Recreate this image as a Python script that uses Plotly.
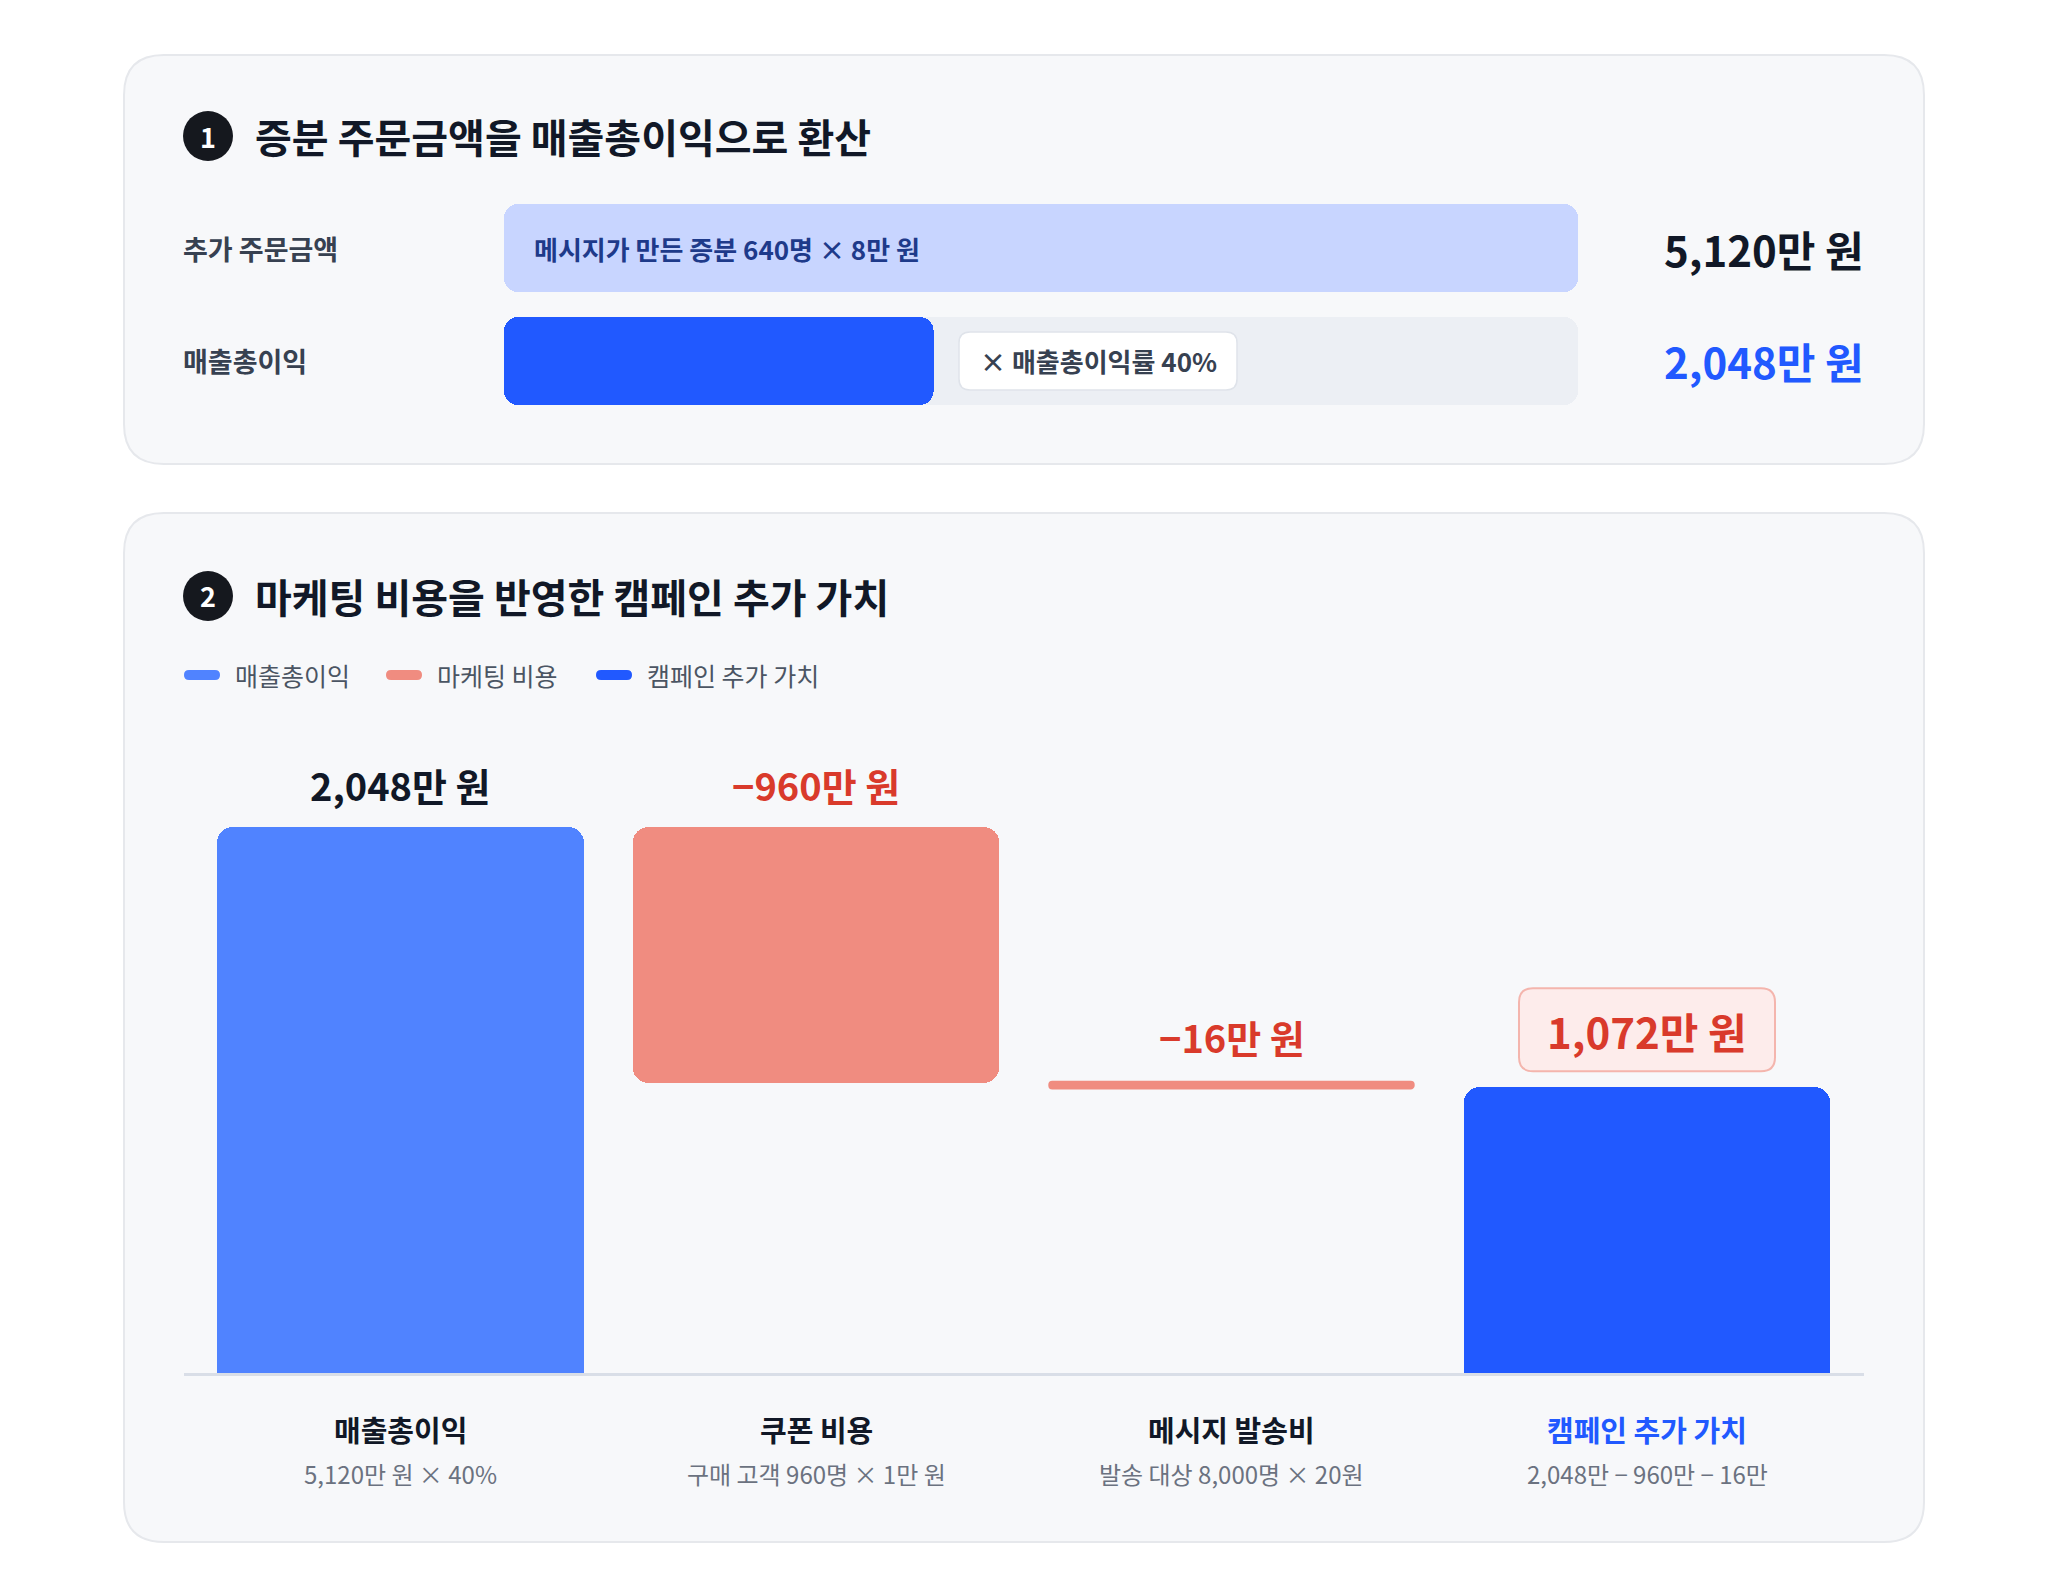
import plotly.graph_objects as go

W, H = 2048, 1596
FONT = "Noto Sans CJK KR"

# ---------------- data ----------------
top_rows = ["추가 주문금액", "매출총이익"]
order_amount = 5120          # 만 원
gross_profit = 2048          # 만 원
order_note = "메시지가 만든 증분 640명 × 8만 원"
margin_note = "× 매출총이익률 40%"
top_value_labels = ["5,120만 원", "2,048만 원"]

categories = ["매출총이익", "쿠폰 비용", "메시지 발송비", "캠페인 추가 가치"]
subtitles = ["5,120만 원 × 40%", "구매 고객 960명 × 1만 원",
             "발송 대상 8,000명 × 20원", "2,048만 − 960만 − 16만"]
step_values = [2048, -960, -16, 1072]
value_labels = ["2,048만 원", "−960만 원", "−16만 원", "1,072만 원"]
legend_names = ["매출총이익", "마케팅 비용", "캠페인 추가 가치"]
titles = ["증분 주문금액을 매출총이익으로 환산", "마케팅 비용을 반영한 캠페인 추가 가치"]

# ---------------- colours ----------------
C_GP = "#5083ff"
C_COST = "#f08c80"
C_VALUE = "#2159ff"
C_LIGHT = "#c8d5ff"
C_TRACK = "#eceff4"
C_RED = "#d93a2b"
C_DARK = "#15181e"
C_TEXT = "#374151"
C_SUB = "#6b7280"


def P(x, y):
    return x / W, 1 - y / H


def rrect(x0, y0, x1, y1, r):
    def p(x, y):
        a, b = P(x, y)
        return f"{a:.6f},{b:.6f}"
    return (f"M{p(x0 + r, y0)} L{p(x1 - r, y0)} Q{p(x1, y0)} {p(x1, y0 + r)} "
            f"L{p(x1, y1 - r)} Q{p(x1, y1)} {p(x1 - r, y1)} L{p(x0 + r, y1)} "
            f"Q{p(x0, y1)} {p(x0, y1 - r)} L{p(x0, y0 + r)} Q{p(x0, y0)} {p(x0 + r, y0)} Z")


fig = go.Figure()
shapes = []
ann = []

# ---------------- panels ----------------
for (y0, y1) in [(55, 464), (513, 1542)]:
    shapes.append(dict(type="path", path=rrect(124, y0, 1924, y1, 40), xref="paper", yref="paper",
                       fillcolor="#f7f8fa", line=dict(color="#e6e8ec", width=2), layer="below"))

# titles with number badges
for i, (cy, t) in enumerate(zip([136, 596], titles)):
    a0, b0 = P(183, cy - 25)
    a1, b1 = P(233, cy + 25)
    shapes.append(dict(type="circle", xref="paper", yref="paper", x0=a0, x1=a1, y0=b1, y1=b0,
                       fillcolor=C_DARK, line=dict(width=0), layer="above"))
    x, y = P(208, cy)
    ann.append(dict(x=x, y=y, xref="paper", yref="paper", text=str(i + 1), showarrow=False,
                    font=dict(family=FONT, size=27, color="white", weight="bold"),
                    xanchor="center", yanchor="middle"))
    x, y = P(253, cy)
    ann.append(dict(x=x, y=y, xref="paper", yref="paper", text=t, showarrow=False,
                    font=dict(family=FONT, size=40, color="#111827", weight="bold"),
                    xanchor="left", yanchor="middle"))

# ---------------- top panel: horizontal bars ----------------
row_y = [1, 0]
BH = 0.7788
fig.add_trace(go.Bar(x=[order_amount], y=[row_y[0]], base=[0], orientation="h", width=BH,
                     marker=dict(color=C_LIGHT, cornerradius=14, line=dict(width=0)),
                     xaxis="x2", yaxis="y2", showlegend=False, hoverinfo="skip"))
fig.add_trace(go.Bar(x=[order_amount], y=[row_y[1]], base=[0], orientation="h", width=BH,
                     marker=dict(color=C_TRACK, cornerradius=14, line=dict(width=0)),
                     xaxis="x2", yaxis="y2", showlegend=False, hoverinfo="skip"))
fig.add_trace(go.Bar(x=[gross_profit], y=[row_y[1]], base=[0], orientation="h", width=BH,
                     marker=dict(color=C_VALUE, cornerradius=14, line=dict(width=0)),
                     xaxis="x2", yaxis="y2", showlegend=False, hoverinfo="skip"))

for lbl, cy in zip(top_rows, [248, 361]):
    x, y = P(181, cy)
    ann.append(dict(x=x, y=y, xref="paper", yref="paper", text=lbl, showarrow=False,
                    font=dict(family=FONT, size=27, color=C_TEXT, weight="bold"),
                    xanchor="left", yanchor="middle"))
ann.append(dict(x=0, y=row_y[0], xref="x2", yref="y2", text=order_note, showarrow=False, xshift=28,
                font=dict(family=FONT, size=26, color="#1e3a8a", weight="bold"),
                xanchor="left", yanchor="middle"))
for lbl, cy, col in zip(top_value_labels, [248, 361], ["#111827", C_VALUE]):
    x, y = P(1866, cy)
    ann.append(dict(x=x, y=y, xref="paper", yref="paper", text=lbl, showarrow=False,
                    font=dict(family=FONT, size=42, color=col, weight="bold"),
                    xanchor="right", yanchor="middle"))
# badge
shapes.append(dict(type="path", path=rrect(959, 332, 1237, 390, 11), xref="paper", yref="paper",
                   fillcolor="white", line=dict(color="#dfe3ea", width=1.5), layer="above"))
x, y = P(1098, 361)
ann.append(dict(x=x, y=y, xref="paper", yref="paper", text=margin_note, showarrow=False,
                font=dict(family=FONT, size=26, color=C_TEXT, weight="bold"),
                xanchor="center", yanchor="middle"))

# ---------------- waterfall ----------------
BASE_PX, TOP_PX = 1373, 760
K = 546 / 2048
YMAX = (BASE_PX - TOP_PX) / K
BW = 0.883

gp, coupon, msg, final = step_values
c_top = gp
c_bot = gp + coupon
m_top = c_bot
m_bot = c_bot + msg

# bar 1: gross profit (rounded top only)
fig.add_trace(go.Bar(x=[0], y=[gp], width=BW,
                     marker=dict(color=C_GP, cornerradius=16, line=dict(width=0)),
                     showlegend=False, hoverinfo="skip"))
# bar 2: coupon cost, floating
fig.add_trace(go.Bar(x=[1], y=[abs(coupon)], base=[c_bot], width=BW,
                     marker=dict(color=C_COST, cornerradius=16, line=dict(width=0)),
                     showlegend=False, hoverinfo="skip"))
# bar 3: message cost (thin)
fig.add_trace(go.Bar(x=[2], y=[abs(msg)], base=[m_bot], width=BW - 0.012,
                     marker=dict(color=C_COST, cornerradius=2, line=dict(width=4.5, color=C_COST)),
                     showlegend=False, hoverinfo="skip"))
# bar 4: campaign value
fig.add_trace(go.Bar(x=[3], y=[final], width=BW,
                     marker=dict(color=C_VALUE, cornerradius=16, line=dict(width=0)),
                     showlegend=False, hoverinfo="skip"))

# baseline
shapes.append(dict(type="line", xref="paper", yref="paper",
                   x0=184 / W, x1=1864 / W, y0=1 - 1374.5 / H, y1=1 - 1374.5 / H,
                   line=dict(color="#d9dee7", width=3), layer="below"))

# value labels
tops = [gp, c_top, m_top, final]
shifts = [43, 43, 46, 57]
sizes = [38, 38, 38, 42]
colors = ["#111827", C_RED, C_RED, C_RED]
for i, (lbl, t, s, sz, col) in enumerate(zip(value_labels, tops, shifts, sizes, colors)):
    if i == 3:
        cy = BASE_PX - t * K - s
        cx = 192.75 + 415.5 * (i + 0.5)
        shapes.append(dict(type="path", path=rrect(cx - 128, cy - 42, cx + 128, cy + 41, 14),
                           xref="paper", yref="paper", fillcolor="#fdeceb",
                           line=dict(color="#f4b5ad", width=2), layer="above"))
    ann.append(dict(x=i, y=t, xref="x", yref="y", text=lbl, showarrow=False, yshift=s,
                    font=dict(family=FONT, size=sz, color=col, weight="bold"),
                    xanchor="center", yanchor="middle"))

# category labels
for i, (c, sub) in enumerate(zip(categories, subtitles)):
    ann.append(dict(x=i, y=1 - 1429 / H, xref="x", yref="paper", text=c, showarrow=False,
                    font=dict(family=FONT, size=29, color=C_VALUE if i == 3 else "#111827", weight="bold"),
                    xanchor="center", yanchor="middle"))
    ann.append(dict(x=i, y=1 - 1473 / H, xref="x", yref="paper", text=sub, showarrow=False,
                    font=dict(family=FONT, size=24, color=C_SUB),
                    xanchor="center", yanchor="middle"))

# legend (custom pills)
for name, col, px0, tx in zip(legend_names, [C_GP, C_COST, C_VALUE], [184, 386, 596], [233, 435, 645]):
    shapes.append(dict(type="path", path=rrect(px0, 670, px0 + 36, 680, 5), xref="paper", yref="paper",
                       fillcolor=col, line=dict(width=0), layer="above"))
    x, y = P(tx, 675)
    ann.append(dict(x=x, y=y, xref="paper", yref="paper", text=name, showarrow=False,
                    font=dict(family=FONT, size=25, color="#4b5563"),
                    xanchor="left", yanchor="middle"))

fig.update_layout(
    width=W, height=H,
    margin=dict(l=0, r=0, t=0, b=0),
    paper_bgcolor="white", plot_bgcolor="rgba(0,0,0,0)",
    barmode="overlay", bargap=0,
    font=dict(family=FONT),
    showlegend=False,
    shapes=shapes, annotations=ann,
    xaxis=dict(domain=[192.75 / W, 1854.75 / W], range=[-0.5, 3.5], visible=False, fixedrange=True),
    yaxis=dict(domain=[1 - BASE_PX / H, 1 - TOP_PX / H], range=[0, YMAX], visible=False, fixedrange=True),
    xaxis2=dict(domain=[504 / W, 1578 / W], range=[0, order_amount], visible=False, anchor="y2",
                fixedrange=True),
    yaxis2=dict(domain=[1 - 420 / H, 1 - 190 / H], range=[-59 / 113, 1 + 58 / 113], visible=False,
                anchor="x2", fixedrange=True),
)

fig.write_html("out.html", config=dict(displayModeBar=False, staticPlot=True))
